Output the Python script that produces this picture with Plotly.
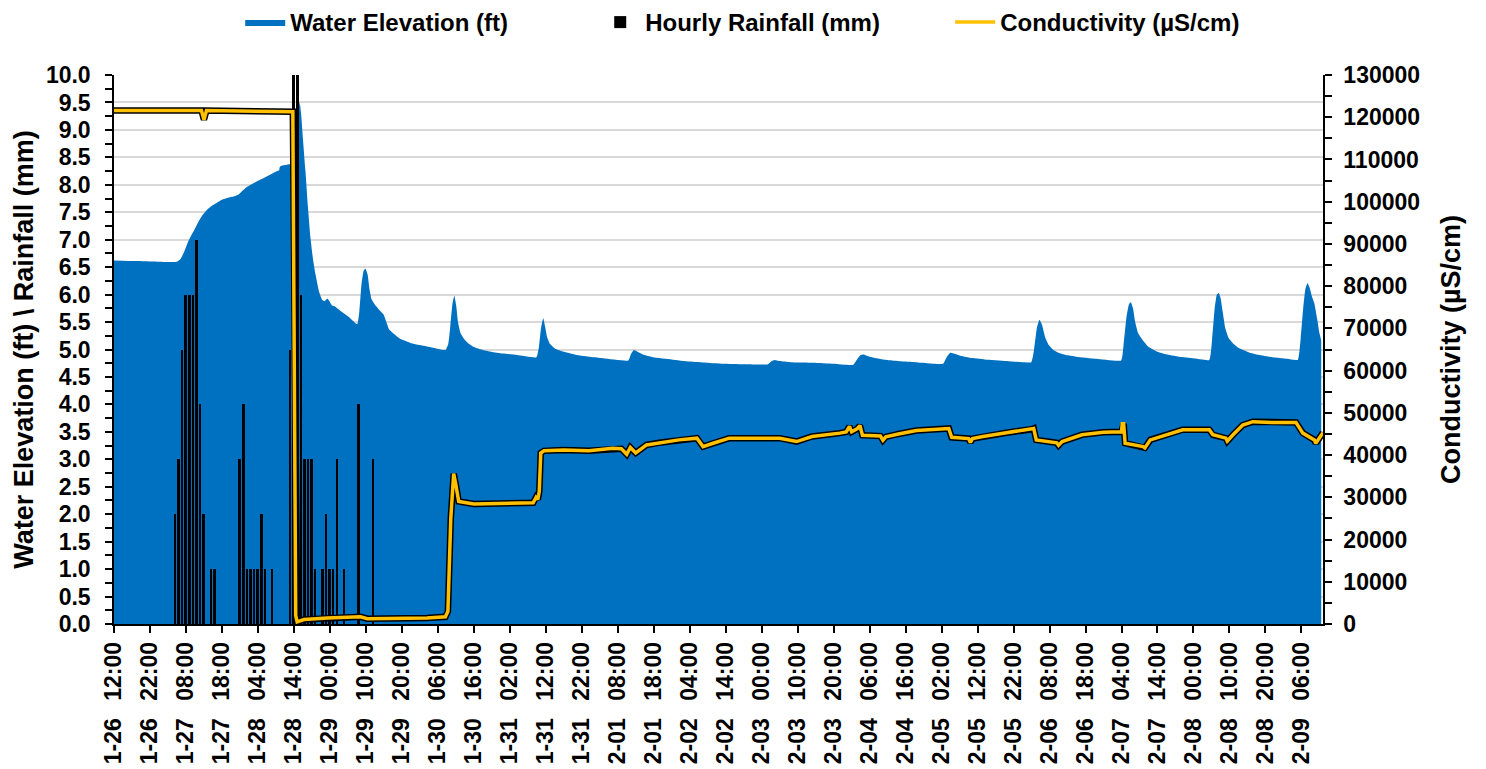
import pandas as pd
import plotly.graph_objects as go

# ---------------- data (hours after 1-26 12:00) ----------------
START = "2024-01-26 12:00"

water_hours = [0, 6, 12, 17.5, 18.5, 19.5, 20.5, 21.5, 22.5, 23.5, 24.5, 25.5, 26.5, 27.5, 28.5, 29.5,
               30.5, 32, 33.5, 34.5, 35.5, 36.9, 38.5, 40.6, 43, 45.9, 46.0, 46.1, 47.5, 49, 50.4,
               50.8, 51.2, 51.6, 52.0, 52.5, 53.2, 53.9, 54.6, 55.3, 56.0, 57, 57.9, 58.5, 59.3, 59.9,
               60.6, 61.5, 63, 65.5, 67.6, 68.2, 68.8, 69.4, 69.9, 70.5, 71.0, 71.5, 71.9, 72.7, 74,
               75.0, 75.5, 76.4, 77.5, 79.4, 82.4, 85, 88, 92.1, 92.9, 93.5, 94.1, 94.6, 95.1, 95.6,
               96.3, 97.2, 98.1, 99.8, 102, 106.3, 112, 117.4, 118.1, 118.7, 119.3, 119.8, 120.4,
               121.2, 122.5, 125, 129.4, 136, 142.9, 143.7, 144.5, 145.5, 147, 149.8, 155, 160,
               164.6, 170, 175.7, 181.7, 182.8, 183.6, 185, 188, 194.3, 200, 205.4, 206.5, 207.5,
               208.3, 210, 213.7, 220, 226, 230.4, 231.4, 232.4, 233.2, 235, 237.8, 242, 248, 254.9,
               255.7, 256.5, 257.2, 257.9, 258.8, 259.8, 260.9, 262.5, 264.5, 267.4, 273, 279.9,
               280.6, 281.4, 282.1, 282.6, 283.2, 283.8, 284.6, 285.9, 287.5, 289.6, 292, 296, 300,
               304.4, 305.2, 305.9, 306.5, 307.0, 307.5, 308.1, 308.8, 309.7, 310.9, 312.5, 315.6,
               319, 322, 326, 329, 329.8, 330.5, 331.1, 331.7, 332.3, 333.0, 333.6, 334.4, 335.0,
               335.5]
water_ft = [6.62, 6.61, 6.60, 6.60, 6.65, 6.78, 6.95, 7.08, 7.20, 7.33, 7.44, 7.52, 7.58, 7.63, 7.67, 7.71,
            7.74, 7.77, 7.79, 7.82, 7.88, 7.96, 8.02, 8.09, 8.17, 8.26, 4.48, 8.33, 8.36, 8.38, 8.42,
            8.80, 9.30, 9.51, 9.30, 8.85, 8.26, 7.60, 7.04, 6.65, 6.37, 6.05, 5.90, 5.88, 5.93, 5.88,
            5.80, 5.78, 5.70, 5.58, 5.46, 5.70, 6.20, 6.44, 6.47, 6.36, 6.10, 5.93, 5.88, 5.80, 5.70,
            5.63, None, 5.37, 5.30, 5.20, 5.12, 5.08, 5.04, 4.99, 5.10, 5.45, 5.85, 5.98, 5.80, 5.50,
            5.30, 5.20, 5.13, 5.05, 5.00, 4.94, 4.90, 4.86, 5.05, 5.40, 5.57, 5.42, 5.22,
            5.10, 5.02, 4.96, 4.89, 4.84, 4.80, 4.92, 4.99, 4.96, 4.91, 4.86, 4.82, 4.78,
            4.76, 4.74, 4.73, 4.73, 4.79, 4.81, 4.79, 4.77, 4.76, 4.74, 4.72, 4.82, 4.90,
            4.91, 4.87, 4.82, 4.78, 4.75, 4.74, 4.86, 4.94, 4.93, 4.89, 4.85, 4.82, 4.79, 4.77,
            5.00, 5.40, 5.54, 5.45, 5.22, 5.08, 5.00, 4.94, 4.90, 4.87, 4.83, 4.80,
            5.10, 5.60, 5.83, 5.86, 5.75, 5.50, 5.30, 5.17, 5.05, 4.97, 4.92, 4.87, 4.84,
            4.81, 5.20, 5.75, 6.00, 6.03, 5.95, 5.70, 5.40, 5.22, 5.12, 5.03, 4.94,
            4.89, 4.86, 4.83, 4.81, 5.20, 5.75, 6.10, 6.21, 6.12, 5.95, 5.84, 5.55, 5.30,
            5.17]

rain_hours = [17, 18, 19, 20, 21, 22, 23, 24, 25, 27, 28,
              35, 36, 37, 38, 39, 40, 41, 42, 44,
              49, 50, 51, 52, 53, 54, 55, 56, 58, 59, 60, 61, 62, 64, 68, 72]
rain_mm = [2, 3, 5, 6, 6, 6, 7, 4, 2, 1, 1,
           3, 4, 1, 1, 1, 1, 2, 1, 1,
           5, 14, 12, 6, 3, 3, 3, 1, 1, 2, 1, 1, 3, 1, 4, 3]

cond_hours = [0, 24.3, 25.0, 25.7, 49.7, 50.5, 50.9, 52.8, 59.3, 66.0, 68.5, 70.4, 77.8, 87.0, 92.1,
              92.8, 93.6, 94.4, 95.0, 95.8, 100.0, 110.0, 116.5, 117.3, 117.8, 118.2, 118.6, 119.5,
              125.0, 132.0, 138.6, 141.0, 142.5, 143.5, 145.0, 148.0, 152.0, 157.0, 162.0, 163.7,
              166.5, 171.0, 178.0, 185.0, 189.7, 194.0, 201.7, 203.5, 204.4, 205.0, 206.5, 207.3,
              208.0, 213.0, 213.7, 214.5, 218.0, 223.0, 232.0, 232.8, 237.5, 238.0, 238.6, 241.5,
              248.0, 255.0, 255.6, 256.3, 262.0, 262.5, 263.5, 269.0, 275.0, 280.0, 280.2, 280.6,
              281.0, 286.0, 286.5, 288.0, 293.0, 297.0, 304.4, 305.4, 309.0, 309.4, 311.0, 313.7,
              316.5, 322.0, 328.5, 330.4, 333.6, 334.0, 336.0]
cond_us = [121600, 121600, 119400, 121600, 121300, 2000, 500, 1050, 1400, 1600, 1700, 1250, 1250, 1400, 1700,
           3000, 25000, 35600, 33000, 29000, 28400, 28500, 28700, 30000, 29500, 31500, 40500, 41000,
           41200, 41000, 41600, 41500, 40200, 41800, 40500, 42400, 43000, 43600, 44000, 42000,
           42800, 44000, 44000, 44000, 43200, 44400, 45200, 45500, 46800, 45500, 46200, 47000,
           44700, 44500, 43500, 44300, 45000, 45800, 46300, 44200, 43900, 43000, 43900, 44400,
           45300, 46100, 46300, 43600, 42900, 42300, 43200, 44800, 45400, 45500, 47400, 47400,
           42800, 42000, 41700, 43600, 45000, 46000, 46000, 44800, 44000, 43300, 44800, 47100,
           47900, 47700, 47700, 45200, 43600, 42800, 45300]

tick_labels = ["1-26 12:00", "1-26 22:00", "1-27 08:00", "1-27 18:00", "1-28 04:00", "1-28 14:00",
               "1-29 00:00", "1-29 10:00", "1-29 20:00", "1-30 06:00", "1-30 16:00", "1-31 02:00",
               "1-31 12:00", "1-31 22:00", "2-01 08:00", "2-01 18:00", "2-02 04:00", "2-02 14:00",
               "2-03 00:00", "2-03 10:00", "2-03 20:00", "2-04 06:00", "2-04 16:00", "2-05 02:00",
               "2-05 12:00", "2-05 22:00", "2-06 08:00", "2-06 18:00", "2-07 04:00", "2-07 14:00",
               "2-08 00:00", "2-08 10:00", "2-08 20:00", "2-09 06:00"]
RANGE_HOURS = 336

# ---------------- helpers ----------------
start = pd.Timestamp(START)


def to_time(hours):
    return [start + pd.Timedelta(hours=h) for h in hours]


tick_vals = [pd.Timestamp("2024-" + s) for s in tick_labels]
tick_text = [s.replace(" ", "\u00a0\u00a0\u2009") for s in tick_labels]

FONT = "Liberation Sans, Arial, sans-serif"
BLUE = "#0070C0"
GOLD = "#FFC000"

fig = go.Figure()
fig.add_trace(go.Scatter(
    x=to_time(water_hours), y=water_ft, name="Water Elevation (ft)", mode="lines",
    line=dict(width=0, color=BLUE, shape="spline", smoothing=0.4), fill="tozeroy",
    fillcolor=BLUE, connectgaps=False, yaxis="y"))
fig.add_trace(go.Bar(
    x=to_time(rain_hours), y=rain_mm, name="Hourly Rainfall (mm)",
    marker=dict(color="black", line=dict(width=0)), width=0.55 * 3600 * 1000, yaxis="y2"))
fig.add_trace(go.Scatter(
    x=to_time(cond_hours), y=cond_us, mode="lines", showlegend=False, hoverinfo="skip",
    line=dict(color="black", width=6.5), yaxis="y3"))
fig.add_trace(go.Scatter(
    x=to_time(cond_hours), y=cond_us, mode="lines", name="Conductivity (µS/cm)",
    line=dict(color=GOLD, width=3.5), yaxis="y3"))

xtickfont = dict(family=FONT, size=23, color="black", weight="bold")
tickfont = dict(family=FONT, size=23, color="black", weight="bold")
titlefont = dict(family=FONT, size=27, color="black", weight="bold")

fig.update_layout(
    width=1486, height=769, autosize=False,
    paper_bgcolor="white", plot_bgcolor="white",
    margin=dict(l=114, r=163, t=75, b=145, autoexpand=False),
    font=dict(family=FONT, color="black"),
    bargap=0,
    showlegend=True,
    legend=dict(orientation="h", xref="container", x=0.52, xanchor="center",
                yref="container", y=1.0, yanchor="top",
                font=dict(family=FONT, size=24, color="black", weight="bold"),
                itemwidth=40, entrywidth=300, traceorder="normal"),
    xaxis=dict(type="date", range=[start, start + pd.Timedelta(hours=RANGE_HOURS)],
               tickmode="array", tickvals=tick_vals, ticktext=tick_text, tickangle=-90,
               tickfont=xtickfont, showgrid=False, showline=True, linecolor="black", linewidth=1.5,
               ticks="outside", ticklen=7, tickcolor="black", tickwidth=1.5,
               ticklabelstandoff=0, zeroline=False),
    yaxis=dict(range=[0, 10], dtick=0.5, tickformat=".1f", tickfont=tickfont,
               showgrid=True, gridcolor="#d9d9d9", gridwidth=1.5, zeroline=False,
               showline=True, linecolor="black", linewidth=1.5,
               ticks="outside", ticklen=7, tickcolor="black", tickwidth=1.5,
               ticklabelstandoff=10,
               minor=dict(dtick=0.25, ticks="outside", ticklen=7, tickcolor="black", tickwidth=1.5,
                          showgrid=False),
               title=dict(text="Water Elevation (ft) \\ Rainfall (mm)", font=titlefont, standoff=4)),
    yaxis2=dict(range=[0, 10], overlaying="y", visible=False, showgrid=False),
    yaxis3=dict(range=[0, 130000], overlaying="y", side="right", dtick=10000, tickformat="d",
                tickfont=tickfont, showgrid=False, zeroline=False,
                showline=True, linecolor="black", linewidth=1.5,
                ticks="outside", ticklen=7, tickcolor="black", tickwidth=1.5,
                ticklabelstandoff=7,
                minor=dict(dtick=5000, ticks="outside", ticklen=7, tickcolor="black", tickwidth=1.5,
                           showgrid=False),
                title=dict(text="Conductivity (µS/cm)", font=titlefont, standoff=22)),
)

fig.write_html("out.html", config={"displayModeBar": False},
               post_script="document.body.style.margin='0';")
